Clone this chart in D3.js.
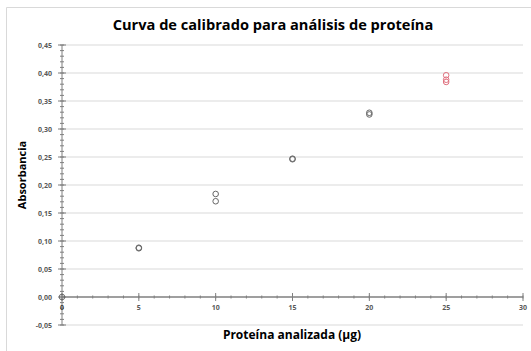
<!DOCTYPE html>
<html><head><meta charset="utf-8">
<script src="https://cdn.jsdelivr.net/npm/d3@7"></script>
<style>body{margin:0;background:#fff;}svg{display:block;font-family:"Open Sans",sans-serif;}</style>
</head><body><svg id="c" width="531" height="351"></svg>
<script>
const titleText = "Curva de calibrado para análisis de proteína";
const xLabel = "Proteína analizada (μg)";
const yLabel = "Absorbancia";
const xTicks = [0,5,10,15,20,25,30];
const yTicks = [-0.05,0,0.05,0.10,0.15,0.20,0.25,0.30,0.35,0.40,0.45];
const blackX = [0,5,5,10,10,15,15,20,20];
const blackY = [0,0.087,0.088,0.184,0.171,0.246,0.247,0.329,0.326];
const redX = [25,25,25];
const redY = [0.396,0.388,0.384];

const svg = d3.select("#c");
const x = d3.scaleLinear().domain([0,30]).range([62,523]);
const y = d3.scaleLinear().domain([-0.05,0.45]).range([325,45]);
const fmt = v => d3.format(".2f")(v).replace(".",",").replace("−","-");

// frame
svg.append("path").attr("d","M6.5,360V7.5H540").attr("fill","none").attr("stroke","#d9d9d9");

// gridlines
svg.append("g").selectAll("line").data(yTicks.filter(d=>d!==0)).join("line")
  .attr("x1",x(0)).attr("x2",x(30)).attr("y1",d=>y(d)).attr("y2",d=>y(d))
  .attr("stroke","#d9d9d9").attr("stroke-width",1);

// y axis
const yMinor = d3.range(-5,46).map(i=>i/100);
const ga = svg.append("g");
ga.selectAll("line.ym").data(yMinor).join("line")
  .attr("x1",x(0)-2).attr("x2",x(0)+2).attr("y1",d=>y(d)).attr("y2",d=>y(d))
  .attr("stroke","#7f7f7f");
ga.selectAll("line.yM").data(yTicks).join("line")
  .attr("x1",x(0)-4).attr("x2",x(0)+4).attr("y1",d=>y(d)).attr("y2",d=>y(d))
  .attr("stroke","#7f7f7f");
ga.append("line").attr("x1",x(0)).attr("x2",x(0)).attr("y1",y(-0.05)).attr("y2",y(0.45)).attr("stroke","#7f7f7f");
svg.append("g").selectAll("text").data(yTicks).join("text")
  .attr("x",52).attr("y",d=>y(d)+2.5).attr("text-anchor","end")
  .attr("font-size",7).attr("font-weight","bold").attr("fill","#595959").text(fmt);

// x axis
const xMinor = d3.range(0,31);
ga.selectAll("line.xm").data(xMinor).join("line")
  .attr("x1",d=>x(d)).attr("x2",d=>x(d)).attr("y1",y(0)-1.5).attr("y2",y(0)+1.5).attr("stroke","#7f7f7f");
ga.selectAll("line.xM").data(xTicks).join("line")
  .attr("x1",d=>x(d)).attr("x2",d=>x(d)).attr("y1",y(0)-4).attr("y2",y(0)+4).attr("stroke","#7f7f7f");
ga.append("line").attr("x1",x(0)).attr("x2",x(30)).attr("y1",y(0)).attr("y2",y(0)).attr("stroke","#7f7f7f").attr("stroke-width",1.3);
svg.append("g").selectAll("text").data(xTicks).join("text")
  .attr("x",d=>x(d)).attr("y",y(0)+13).attr("text-anchor","middle")
  .attr("font-size",7).attr("font-weight","bold").attr("fill",d=>d===0?"#404040":"#595959").text(d=>d);

// points
svg.append("g").selectAll("circle").data(blackX.map((d,i)=>[d,blackY[i]])).join("circle")
  .attr("cx",d=>x(d[0])).attr("cy",d=>y(d[1])).attr("r",2.8)
  .attr("fill","none").attr("stroke","#666").attr("stroke-width",1);
svg.append("g").selectAll("circle").data(redX.map((d,i)=>[d,redY[i]])).join("circle")
  .attr("cx",d=>x(d[0])).attr("cy",d=>y(d[1])).attr("r",2.8)
  .attr("fill","none").attr("stroke","#e0707e").attr("stroke-width",1);

// titles
svg.append("text").attr("x",273).attr("y",30).attr("text-anchor","middle")
  .attr("font-size",14.6).attr("font-weight","bold").attr("fill","#000").text(titleText);
svg.append("text").attr("x",292).attr("y",339).attr("text-anchor","middle")
  .attr("font-size",12).attr("font-weight","bold").attr("fill","#000").text(xLabel);
svg.append("text").attr("transform","translate(26,175) rotate(-90)").attr("text-anchor","middle")
  .attr("font-size",11).attr("font-weight","bold").attr("fill","#000").text(yLabel);
</script></body></html>
